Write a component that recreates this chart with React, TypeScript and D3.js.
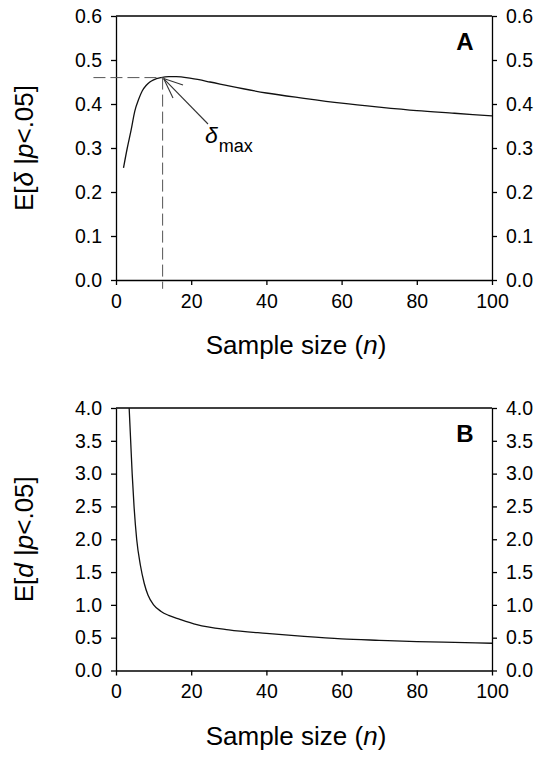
import React, { useEffect, useRef } from 'react';
import * as d3 from 'd3';

// Panel A: expected true effect given significance
const sizeA = [2, 3, 4, 5, 6, 7, 8, 9, 10, 12, 14, 16, 20, 25, 30, 40, 50, 60, 70, 80, 90, 100];
const deltaA = [0.255, 0.3, 0.34, 0.384, 0.41, 0.43, 0.442, 0.45, 0.455, 0.46, 0.462, 0.462, 0.458, 0.45, 0.441, 0.425, 0.413, 0.402, 0.393, 0.385, 0.379, 0.373];

// Panel B: expected observed effect given significance
const sizeB = [3.5, 3.9, 4.3, 4.8, 5.5, 6.5, 7.5, 8.5, 10, 12, 14, 17, 21.5, 30, 40, 50, 60, 70, 80, 90, 100];
const dB = [4.0, 3.5, 3.0, 2.5, 2.0, 1.6, 1.33, 1.15, 1.0, 0.9, 0.84, 0.78, 0.7, 0.62, 0.565, 0.52, 0.483, 0.46, 0.44, 0.428, 0.415];

const xTicks = [0, 20, 40, 60, 80, 100];
const yTicksA = [0, 0.1, 0.2, 0.3, 0.4, 0.5, 0.6];
const yTicksB = [0, 0.5, 1, 1.5, 2, 2.5, 3, 3.5, 4];

// peak of panel A
const peakN = 12.4;
const peakDelta = 0.46;

const FONT = 'Liberation Sans, Arial, sans-serif';

const App = () => {
  const svgRef = useRef(null);

  useEffect(() => {
    const svg = d3.select(svgRef.current);
    svg.selectAll('*').remove();

    const left = 116;
    const right = 492;

    const drawPanel = (top, bottom, xs, ys, yMax, yTicks, letter, yLabel) => {
      const g = svg.append('g');
      const x = d3.scaleLinear().domain([0, 100]).range([left, right]);
      const y = d3.scaleLinear().domain([0, yMax]).range([bottom, top]);

      const styleAxis = (sel) => {
        sel.selectAll('path, line').attr('stroke', '#000').attr('stroke-width', 1.3);
        sel.selectAll('text').attr('font-family', FONT).attr('font-size', 19.5).attr('fill', '#000');
      };

      g.append('g')
        .attr('transform', `translate(0,${bottom})`)
        .call(d3.axisBottom(x).tickValues(xTicks).tickSizeInner(5).tickSizeOuter(0).tickPadding(9))
        .call(styleAxis);

      g.append('g')
        .attr('transform', `translate(${left},0)`)
        .call(d3.axisLeft(y).tickValues(yTicks).tickFormat(d3.format('.1f')).tickSizeInner(5).tickSizeOuter(0).tickPadding(9))
        .call(styleAxis);

      g.append('g')
        .attr('transform', `translate(${right},0)`)
        .call(d3.axisRight(y).tickValues(yTicks).tickFormat(d3.format('.1f')).tickSizeInner(5).tickSizeOuter(0).tickPadding(9))
        .call(styleAxis);

      // top frame line
      g.append('line')
        .attr('x1', left).attr('x2', right)
        .attr('y1', top).attr('y2', top)
        .attr('stroke', '#000').attr('stroke-width', 1.3);

      const myLine = d3.line()
        .x((d) => x(d[0]))
        .y((d) => y(d[1]))
        .curve(d3.curveMonotoneX);

      g.append('path')
        .datum(xs.map((n, i) => [n, ys[i]]))
        .attr('d', myLine)
        .attr('fill', 'none')
        .attr('stroke', '#111')
        .attr('stroke-width', 1.3);

      g.append('text')
        .attr('x', 465).attr('y', top + 34)
        .attr('text-anchor', 'middle')
        .attr('font-family', FONT).attr('font-weight', 'bold').attr('font-size', 24)
        .text(letter);

      g.append('text')
        .attr('x', 296).attr('y', bottom + 74)
        .attr('text-anchor', 'middle')
        .attr('font-family', FONT).attr('font-size', 26)
        .call((t) => {
          t.append('tspan').text('Sample size (');
          t.append('tspan').attr('font-style', 'italic').text('n');
          t.append('tspan').text(')');
        });

      g.append('text')
        .attr('transform', `translate(33,${(top + bottom) / 2}) rotate(-90)`)
        .attr('text-anchor', 'middle')
        .attr('font-family', FONT).attr('font-size', 26)
        .call((t) => {
          t.append('tspan').text('E[');
          t.append('tspan').attr('font-style', 'italic').text(yLabel);
          t.append('tspan').text(' |');
          t.append('tspan').attr('font-style', 'italic').text('p');
          t.append('tspan').text('<.05]');
        });

      return { g, x, y };
    };

    const a = drawPanel(16, 280, sizeA, deltaA, 0.6, yTicksA, 'A', 'δ');
    drawPanel(408, 670.5, sizeB, dB, 4, yTicksB, 'B', 'd');

    // peak annotation in panel A
    const px = a.x(peakN);
    const py = a.y(peakDelta);
    a.g.append('line')
      .attr('x1', a.x(-6)).attr('x2', px)
      .attr('y1', py).attr('y2', py)
      .attr('stroke', '#555').attr('stroke-width', 1).attr('stroke-dasharray', '12,5');
    a.g.append('line')
      .attr('x1', px).attr('x2', px)
      .attr('y1', py).attr('y2', a.y(-0.02))
      .attr('stroke', '#555').attr('stroke-width', 1).attr('stroke-dasharray', '12,5');

    // arrow from label to peak
    a.g.append('line')
      .attr('x1', 208).attr('y1', 124).attr('x2', px + 1).attr('y2', py + 1)
      .attr('stroke', '#333').attr('stroke-width', 1.1);
    a.g.append('line')
      .attr('x1', px + 1).attr('y1', py + 1).attr('x2', 183).attr('y2', 85)
      .attr('stroke', '#333').attr('stroke-width', 1.1);
    a.g.append('line')
      .attr('x1', px + 1).attr('y1', py + 1).attr('x2', 173).attr('y2', 98)
      .attr('stroke', '#333').attr('stroke-width', 1.1);

    a.g.append('text')
      .attr('x', 205).attr('y', 143)
      .attr('font-family', FONT)
      .call((t) => {
        t.append('tspan').attr('font-size', 23).attr('font-style', 'italic').text('δ');
        t.append('tspan').attr('font-size', 18).attr('dy', 9).attr('dx', 1).text('max');
      });
  }, []);

  return (
    <div className='root'>
      <svg ref={svgRef} width={539} height={761} style={{ position: 'absolute', left: 0, top: 0, background: '#fff' }} />
    </div>
  );
};

export default App;
